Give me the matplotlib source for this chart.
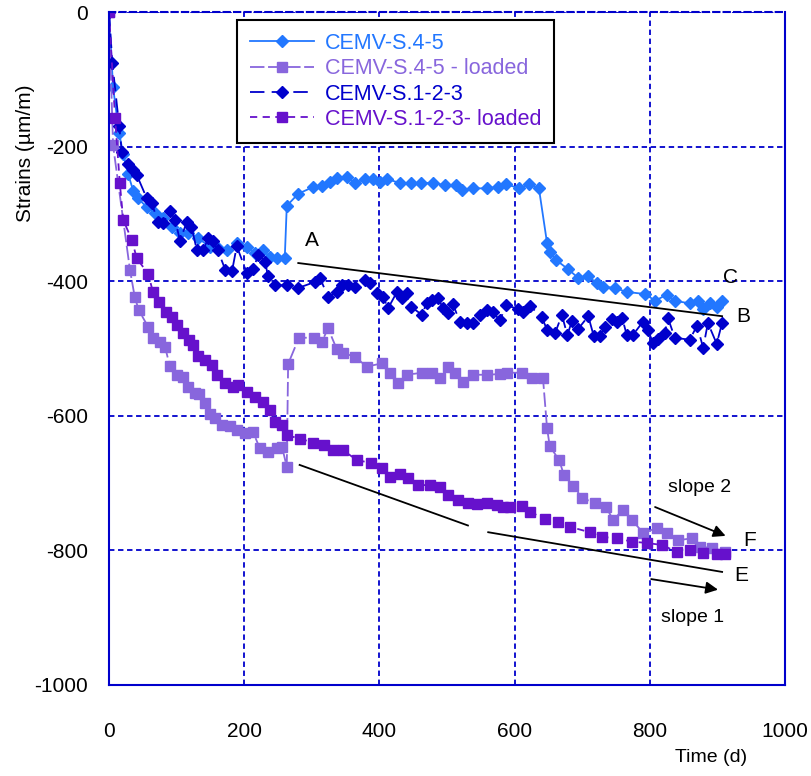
import matplotlib
matplotlib.use("Agg")
import matplotlib.pyplot as plt

plt.rcParams['font.family'] = ['Liberation Sans', 'DejaVu Sans']
plt.rcParams['axes.unicode_minus'] = False

# CEMV-S.4-5
s45_t = [0, 6, 15, 21, 28, 36, 43, 56, 68, 80, 93, 105, 117, 132, 149, 161, 174, 189, 204, 216,
         228, 238, 248, 260, 263, 280, 302, 315, 327, 337, 352, 364, 379, 391, 401, 411, 430, 447,
         462, 479, 497, 514, 522, 539, 559, 575, 588, 607, 621, 636, 648, 652, 662, 679, 694, 709,
         722, 731, 748, 766, 793, 808, 825, 837, 859, 871, 879, 889, 899, 907]
s45_e = [0, -112, -180, -211, -240, -266, -277, -290, -299, -306, -319, -328, -328, -336, -349,
         -351, -354, -343, -349, -358, -354, -364, -366, -366, -288, -270, -260, -259, -253, -247,
         -245, -254, -248, -248, -252, -248, -254, -254, -254, -254, -257, -257, -264, -262, -262,
         -260, -256, -262, -256, -262, -343, -357, -369, -382, -395, -393, -403, -408, -410, -416,
         -419, -429, -420, -429, -433, -429, -441, -432, -438, -429]

# CEMV-S.4-5 - loaded
s45L_t = [0, 6, 31, 38, 44, 58, 65, 75, 83, 90, 100, 109, 117, 127, 133, 142, 149, 157, 167, 179,
          189, 201, 213, 223, 235, 248, 256, 263, 265, 281, 304, 315, 324, 337, 346, 364, 381, 404,
          416, 428, 441, 463, 478, 490, 502, 512, 524, 539, 559, 578, 589, 611, 626, 642, 648, 652,
          666, 673, 687, 700, 719, 735, 746, 760, 774, 790, 810, 825, 842, 862, 874, 892, 911]
s45L_e = [0, -198, -383, -423, -443, -468, -484, -490, -498, -526, -539, -542, -557, -566, -568,
          -581, -597, -603, -614, -615, -621, -626, -624, -648, -654, -648, -646, -676, -523, -484,
          -484, -490, -470, -501, -507, -512, -527, -522, -537, -551, -539, -536, -536, -544, -527,
          -536, -550, -539, -539, -538, -536, -536, -544, -544, -618, -645, -666, -688, -705, -722,
          -730, -735, -755, -740, -755, -774, -767, -774, -785, -782, -795, -796, -802]

# CEMV-S.1-2-3
s123_t = [0, 5, 15, 19, 28, 36, 41, 56, 63, 73, 80, 90, 98, 105, 115, 122, 130, 139, 147, 154,
          161, 172, 182, 189, 204, 213, 221, 231, 235, 246, 263, 280, 305, 312, 324, 337, 345, 354,
          364, 379, 386, 396, 405, 413, 426, 433, 441, 447, 463, 470, 478, 487, 494, 502, 509, 519,
          529, 539, 549, 559, 568, 578, 588, 605, 612, 623, 640, 648, 660, 670, 678, 685, 694, 709,
          717, 726, 734, 744, 752, 759, 766, 775, 790, 797, 805, 812, 822, 827, 837, 859, 870, 879,
          886, 899, 907]
s123_e = [0, -76, -169, -208, -226, -235, -242, -277, -284, -312, -314, -295, -309, -340, -312,
          -319, -354, -354, -336, -340, -354, -383, -385, -348, -388, -382, -361, -371, -392, -406,
          -406, -410, -401, -395, -423, -416, -406, -406, -408, -398, -402, -418, -423, -440, -416,
          -425, -418, -438, -450, -432, -428, -425, -440, -447, -434, -461, -462, -462, -450, -443,
          -446, -458, -436, -441, -446, -437, -453, -472, -477, -450, -480, -459, -471, -452, -481,
          -481, -468, -456, -460, -454, -480, -480, -460, -472, -492, -486, -477, -455, -484, -487,
          -466, -499, -462, -493, -462]

# CEMV-S.1-2-3- loaded
s123L_t = [0, 9, 16, 21, 34, 41, 58, 65, 74, 85, 93, 100, 109, 118, 125, 132, 142, 152, 160, 172,
           183, 191, 204, 216, 228, 238, 246, 256, 263, 283, 302, 318, 331, 346, 367, 388, 404, 416,
           430, 442, 457, 475, 490, 502, 516, 531, 544, 559, 574, 583, 593, 611, 623, 645, 664, 682,
           711, 729, 751, 774, 796, 818, 840, 859, 879, 899, 911]
s123L_e = [0, -158, -254, -309, -339, -366, -389, -416, -431, -446, -453, -465, -477, -487, -495,
           -511, -517, -525, -539, -551, -557, -554, -565, -572, -579, -591, -609, -614, -629, -634,
           -640, -643, -651, -651, -666, -670, -677, -691, -686, -692, -703, -703, -706, -718, -725,
           -730, -731, -730, -733, -736, -736, -734, -743, -753, -758, -765, -773, -780, -782, -787,
           -789, -792, -802, -799, -804, -805, -805]

fig = plt.figure(figsize=(8.11, 7.76), dpi=100)
ax = fig.add_axes([0.1344, 0.1173, 0.8335, 0.8672])

ax.plot(s45_t, s45_e, color='#2277FF', linestyle='-', linewidth=1.3, marker='D', markersize=6.5,
        label='CEMV-S.4-5')
ax.plot(s45L_t, s45L_e, color='#8866DD', linestyle=(0, (8, 2)), linewidth=1.3, marker='s',
        markersize=7.5, label='CEMV-S.4-5 - loaded')
ax.plot(s123_t, s123_e, color='#0000CC', linestyle=(0, (8, 4)), linewidth=1.3, marker='D',
        markersize=6.5, label='CEMV-S.1-2-3')
ax.plot(s123L_t, s123L_e, color='#6611CC', linestyle=(0, (4, 3)), linewidth=1.3, marker='s',
        markersize=7.5, label='CEMV-S.1-2-3- loaded')

# trend lines and labels
ax.plot([280, 907], [-373, -452], color='black', linewidth=1.3)
ax.plot([282, 531], [-673, -763], color='black', linewidth=1.3)
ax.plot([561, 907], [-773, -832], color='black', linewidth=1.3)
ax.annotate('', xy=(916, -780), xytext=(804, -734),
            arrowprops=dict(arrowstyle='-|>', color='black', lw=1.3, mutation_scale=18))
ax.annotate('', xy=(905, -859), xytext=(798, -842),
            arrowprops=dict(arrowstyle='-|>', color='black', lw=1.3, mutation_scale=18))
ax.text(300, -339, 'A', fontsize=15, ha='center', va='center')
ax.text(939, -452, 'B', fontsize=15, ha='center', va='center')
ax.text(919, -395, 'C', fontsize=15, ha='center', va='center')
ax.text(936, -837, 'E', fontsize=15, ha='center', va='center')
ax.text(948, -785, 'F', fontsize=15, ha='center', va='center')
ax.text(874, -707, 'slope 2', fontsize=14, ha='center', va='center')
ax.text(864, -900, 'slope 1', fontsize=14, ha='center', va='center')

ax.set_xlim(0, 1000)
ax.set_ylim(-1000, 0)
ax.set_xticks([0, 200, 400, 600, 800, 1000])
ax.set_yticks([0, -200, -400, -600, -800, -1000])
ax.tick_params(length=0, labelsize=15)
ax.tick_params(axis='y', pad=15)
ax.tick_params(axis='x', pad=27)
ax.grid(True, color='#0000CC', linestyle=(0, (3, 2)), linewidth=1.3)
for sp in ax.spines.values():
    sp.set_color('#0000CC')
    sp.set_linewidth(1.5)
ax.spines['top'].set_linestyle((0, (3, 2)))

ax.set_xlabel('Time (d)', fontsize=14)
ax.xaxis.set_label_coords(0.89, -0.095)
ax.set_ylabel('Strains (µm/m)', fontsize=15)
ax.yaxis.set_label_coords(-0.11, 0.79)

leg = ax.legend(loc='upper left', bbox_to_anchor=(0.189, 0.988), borderaxespad=0,
                fontsize=15.5, frameon=True, fancybox=False, edgecolor='black', framealpha=1,
                handlelength=3.0, borderpad=0.6, labelspacing=0.2, handletextpad=0.5)
leg.get_frame().set_linewidth(1.5)
for txt, ln in zip(leg.get_texts(), leg.get_lines()):
    txt.set_color(ln.get_color())

fig.savefig('out.png', dpi=100)
